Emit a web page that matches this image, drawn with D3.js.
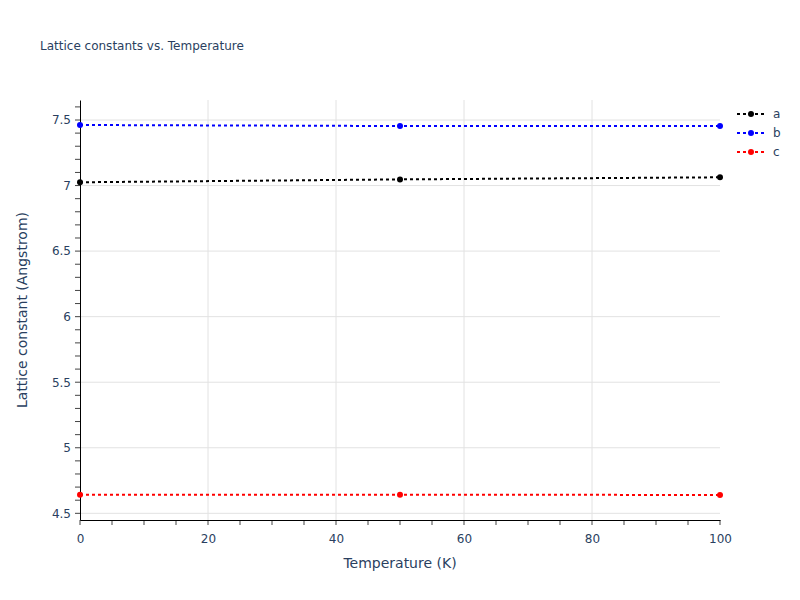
<!DOCTYPE html>
<html>
<head>
<meta charset="utf-8">
<script src="https://cdn.jsdelivr.net/npm/d3@7"></script>
<style>
  body { margin: 0; background: #fff; }
  text { font-family: "DejaVu Sans", "Open Sans", sans-serif; fill: #2a3f5f; }
</style>
</head>
<body>
<div id="chart"></div>
<script>
// temperatures (K) and lattice constants (Angstrom)
var temperatures = [0, 50, 100];
var latticeA = [7.025, 7.047, 7.063];
var latticeB = [7.462, 7.454, 7.454];
var latticeC = [4.642, 4.642, 4.640];
var seriesNames = ["a", "b", "c"];
var seriesColors = ["#000000", "#0000ff", "#ff0000"];
var xTicks = [0, 20, 40, 60, 80, 100];
var yTicks = [4.5, 5, 5.5, 6, 6.5, 7, 7.5];

var fontFamily = "'DejaVu Sans', 'Open Sans', sans-serif";

var svgWidth = 800;
var svgHeight = 600;

var margin = { top: 100, right: 80, bottom: 80, left: 80 };
var width = svgWidth - margin.left - margin.right;
var height = svgHeight - margin.top - margin.bottom;

var svg = d3.select("#chart")
  .append("svg")
  .attr("width", svgWidth)
  .attr("height", svgHeight);

var chartGroup = svg.append("g")
  .attr("transform", `translate(${margin.left}, ${margin.top})`);

var xScale = d3.scaleLinear().domain([0, 100]).range([0, width]);
var yScale = d3.scaleLinear().domain([4.449, 7.6526]).range([height, 0]);

// gridlines
chartGroup.append("g")
  .selectAll("line")
  .data(xTicks.slice(1, -1))
  .enter()
  .append("line")
  .attr("x1", d => xScale(d))
  .attr("x2", d => xScale(d))
  .attr("y1", 0)
  .attr("y2", height)
  .attr("stroke", "#e2e2e2")
  .attr("stroke-width", 1);

chartGroup.append("g")
  .selectAll("line")
  .data(yTicks)
  .enter()
  .append("line")
  .attr("x1", 0)
  .attr("x2", width)
  .attr("y1", d => yScale(d))
  .attr("y2", d => yScale(d))
  .attr("stroke", "#e2e2e2")
  .attr("stroke-width", 1);

// minor ticks (outside)
var xMinor = d3.range(0, 100.001, 5);
var yMinor = d3.range(45, 77).map(d => d / 10);

chartGroup.append("g")
  .selectAll("line")
  .data(xMinor)
  .enter()
  .append("line")
  .attr("x1", d => xScale(d))
  .attr("x2", d => xScale(d))
  .attr("y1", height)
  .attr("y2", height + 5)
  .attr("stroke", "#444")
  .attr("stroke-width", 1);

chartGroup.append("g")
  .selectAll("line")
  .data(yMinor)
  .enter()
  .append("line")
  .attr("x1", -5)
  .attr("x2", 0)
  .attr("y1", d => yScale(d))
  .attr("y2", d => yScale(d))
  .attr("stroke", "#444")
  .attr("stroke-width", 1);

// axes
var bottomAxis = d3.axisBottom(xScale).tickValues(xTicks).tickSize(0).tickPadding(14);
var leftAxis = d3.axisLeft(yScale).tickValues(yTicks).tickSize(0).tickPadding(9)
  .tickFormat(d3.format("~g"));

var xAxis = chartGroup.append("g")
  .attr("transform", `translate(0, ${height})`)
  .call(bottomAxis);
var yAxis = chartGroup.append("g").call(leftAxis);

[xAxis, yAxis].forEach(function(ax) {
  ax.select(".domain").attr("stroke", "#000").attr("stroke-width", 1);
  ax.selectAll("text")
    .attr("font-size", "12px")
    .attr("fill", "#2a3f5f")
    .style("font-family", fontFamily);
});

// series
var seriesData = [latticeA, latticeB, latticeC].map(function(vals, i) {
  return {
    name: seriesNames[i],
    color: seriesColors[i],
    points: temperatures.map((t, j) => ({ t: t, v: vals[j] }))
  };
});

var line = d3.line()
  .x(d => xScale(d.t))
  .y(d => yScale(d.v));

var seriesGroup = chartGroup.selectAll(".series")
  .data(seriesData)
  .enter()
  .append("g")
  .attr("class", "series");

seriesGroup.append("path")
  .attr("d", d => line(d.points))
  .attr("fill", "none")
  .attr("stroke", d => d.color)
  .attr("stroke-width", 2)
  .attr("stroke-dasharray", "3,3");

seriesGroup.selectAll("circle")
  .data(d => d.points.map(p => ({ t: p.t, v: p.v, color: d.color })))
  .enter()
  .append("circle")
  .attr("cx", d => xScale(d.t))
  .attr("cy", d => yScale(d.v))
  .attr("r", 3)
  .attr("fill", d => d.color);

// title
svg.append("text")
  .attr("x", 40)
  .attr("y", 50)
  .attr("font-size", "12px")
  .style("font-family", fontFamily)
  .text("Lattice constants vs. Temperature");

// axis labels
svg.append("text")
  .attr("x", margin.left + width / 2)
  .attr("y", 568)
  .attr("text-anchor", "middle")
  .attr("font-size", "14px")
  .style("font-family", fontFamily)
  .text("Temperature (K)");

svg.append("text")
  .attr("transform", `translate(27, ${margin.top + height / 2}) rotate(-90)`)
  .attr("text-anchor", "middle")
  .attr("font-size", "14px")
  .style("font-family", fontFamily)
  .text("Lattice constant (Angstrom)");

// legend
var legend = svg.append("g")
  .attr("transform", "translate(737, 114)");

var legendItems = legend.selectAll("g")
  .data(seriesData)
  .enter()
  .append("g")
  .attr("transform", (d, i) => `translate(0, ${i * 19})`);

legendItems.append("line")
  .attr("x1", 0)
  .attr("x2", 28)
  .attr("y1", 0)
  .attr("y2", 0)
  .attr("stroke", d => d.color)
  .attr("stroke-width", 2)
  .attr("stroke-dasharray", "3,3");

legendItems.append("circle")
  .attr("cx", 14)
  .attr("cy", 0)
  .attr("r", 3)
  .attr("fill", d => d.color);

legendItems.append("text")
  .attr("x", 36)
  .attr("y", 4)
  .attr("font-size", "12px")
  .style("font-family", fontFamily)
  .text(d => d.name);
</script>
</body>
</html>
